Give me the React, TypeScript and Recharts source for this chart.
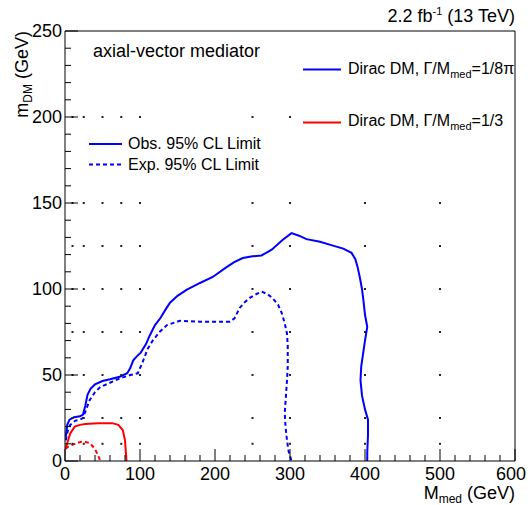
import { ComposedChart, Line, Scatter, XAxis, YAxis, ReferenceLine } from 'recharts';

// observed / expected limits, Dirac DM, width 1/8pi (blue)
const obsMed = [1, 3, 6, 12, 20, 24, 27, 30, 34, 40, 50, 60, 73, 83, 87, 91, 96, 101, 108, 113, 120, 127, 134, 140, 150, 162, 180, 197, 213, 225, 237, 250, 262, 270, 276, 290, 302, 312, 322, 340, 355, 371, 382, 387, 390, 393, 396, 398, 400, 403, 400, 398, 395, 394, 396, 400, 404, 404, 403, 403];
const obsDm = [14, 21, 24, 25.5, 26, 27, 32, 38.5, 42, 44.5, 46.5, 47.5, 49, 51, 54, 58.5, 61, 63, 68, 73, 79, 83, 88, 92, 96, 99.5, 103.5, 107, 112, 115.5, 118, 119, 119.5, 121.5, 123, 128.5, 132.5, 131, 129, 127.5, 125.5, 123.5, 121, 117.5, 113, 107, 100, 93, 85, 78, 70, 64, 55, 47, 38, 30, 24, 15, 5, 0];

const expMed = [1, 4, 7, 14, 20, 24, 27, 30, 33, 40, 47, 60, 73, 87, 97, 104, 110, 117, 126, 136, 153, 180, 200, 220, 226, 233, 240, 247, 255, 262, 270, 276, 284, 289, 293, 296, 297, 297, 296, 293, 294, 296, 298, 302];
const expDm = [12, 18, 21, 23.5, 24, 25, 28.5, 32, 35.5, 40, 43, 45.5, 48, 50, 51, 58, 65, 70, 75, 79, 81.5, 81, 81, 81, 83, 89, 92.5, 95, 97, 98.5, 97, 95, 91, 86, 80, 74, 67, 55, 47, 28, 20, 12, 6, 0];

// Dirac DM, width 1/3 (red)
const wideObsMed = [1, 3, 7, 13, 20, 27, 44, 63, 71, 77, 80, 81, 82];
const wideObsDm = [7, 10.5, 16, 20, 21, 21.5, 22, 22, 21, 18, 12, 6, 0];
const wideExpMed = [1, 3, 9, 16, 22, 27, 33, 39, 44, 47];
const wideExpDm = [7, 8, 9.3, 10.5, 11.2, 11, 10.5, 7.5, 3.5, 0];

// signal scan points
const scanMedLow = [10, 25, 50, 75, 100];
const scanDmLow = [10, 25, 50, 75, 100, 125, 150, 200];
const scanMedHigh = [250, 300, 400, 500];
const scanDmHigh = [10, 25, 50, 75, 100, 125, 150];
const scanExtra = [[250, 200], [300, 200]];

const xTicks = Array.from({ length: 31 }, (_, i) => i * 20);
const yTicks = Array.from({ length: 26 }, (_, i) => i * 10);

const toPts = (xs: number[], ys: number[]) => xs.map((x, i) => ({ x, y: ys[i] }));

const scanPts = [
  ...scanMedLow.flatMap((x) => scanDmLow.map((y) => ({ x, y }))),
  ...scanMedHigh.flatMap((x) => scanDmHigh.map((y) => ({ x, y }))),
  ...scanExtra.map(([x, y]) => ({ x, y })),
];

const FONT = '"Liberation Sans", Arial, Helvetica, sans-serif';
const BLUE = '#0000ff';
const RED = '#ff0000';
const DASH = '4 3';

const YTick = ({ x, y, payload }: any) => {
  const major = payload.value % 50 === 0;
  return (
    <g>
      <line x1={x} x2={x + (major ? 13 : 6)} y1={y} y2={y} stroke="#000" />
      {major && (
        <text x={x - 3} y={y + 6} textAnchor="end" fontSize={18} fontFamily={FONT} fill="#000">
          {payload.value}
        </text>
      )}
    </g>
  );
};

const XTick = ({ x, y, payload }: any) => {
  const major = payload.value % 100 === 0;
  // last label is pulled in so it stays inside the frame
  const last = payload.value === 600;
  return (
    <g>
      <line x1={x} x2={x} y1={y} y2={y - (major ? 12 : 6)} stroke="#000" />
      {major && (
        <text
          x={last ? x + 11 : x}
          y={y + 19}
          textAnchor={last ? 'end' : 'middle'}
          fontSize={18}
          fontFamily={FONT}
          fill="#000"
        >
          {payload.value}
        </text>
      )}
    </g>
  );
};

const Dot = ({ cx, cy }: any) => <rect x={cx - 1} y={cy - 1} width={2} height={2} fill="#222" />;

export default function App() {
  return (
    <div style={{ position: 'absolute', left: 0, top: 0, width: 528, height: 505, background: '#fff', fontFamily: FONT }}>
      <ComposedChart width={528} height={505} margin={{ top: 31, right: 13, bottom: 0, left: 0 }}>
        <XAxis
          type="number"
          dataKey="x"
          domain={[0, 600]}
          ticks={xTicks}
          interval={0}
          allowDataOverflow
          height={44}
          tickLine={false}
          tickSize={0}
          tickMargin={0}
          stroke="#000"
          tick={<XTick />}
        />
        <YAxis
          type="number"
          domain={[0, 250]}
          ticks={yTicks}
          interval={0}
          allowDataOverflow
          width={65}
          tickLine={false}
          tickSize={0}
          tickMargin={0}
          stroke="#000"
          tick={<YTick />}
        />
        <ReferenceLine y={250} stroke="#000" />
        <ReferenceLine x={600} stroke="#000" />
        <Scatter data={scanPts} dataKey="y" shape={<Dot />} isAnimationActive={false} />
        <Line data={toPts(wideExpMed, wideExpDm)} dataKey="y" type="linear" stroke={RED} strokeWidth={2} strokeDasharray={DASH} dot={false} isAnimationActive={false} />
        <Line data={toPts(wideObsMed, wideObsDm)} dataKey="y" type="linear" stroke={RED} strokeWidth={2} dot={false} isAnimationActive={false} />
        <Line data={toPts(expMed, expDm)} dataKey="y" type="linear" stroke={BLUE} strokeWidth={2} strokeDasharray={DASH} dot={false} isAnimationActive={false} />
        <Line data={toPts(obsMed, obsDm)} dataKey="y" type="linear" stroke={BLUE} strokeWidth={2} dot={false} isAnimationActive={false} />
      </ComposedChart>
      <svg width={528} height={505} style={{ position: 'absolute', left: 0, top: 0, pointerEvents: 'none' }} fontFamily={FONT}>
        <text x={515} y={22} textAnchor="end" fontSize={18}>
          2.2 fb<tspan dy={-7} fontSize={11}>-1</tspan>
          <tspan dy={7}> (13 TeV)</tspan>
        </text>
        <text x={93} y={57} fontSize={18}>axial-vector mediator</text>

        <line x1={303} x2={341} y1={69.5} y2={69.5} stroke={BLUE} strokeWidth={2} />
        <text x={348} y={74} fontSize={16}>
          Dirac DM, Γ/M<tspan dy={4} fontSize={11}>med</tspan>
          <tspan dy={-4}>=1/8π</tspan>
        </text>
        <line x1={303} x2={341} y1={122.5} y2={122.5} stroke={RED} strokeWidth={2} />
        <text x={348} y={126} fontSize={16}>
          Dirac DM, Γ/M<tspan dy={4} fontSize={11}>med</tspan>
          <tspan dy={-4}>=1/3</tspan>
        </text>

        <line x1={89} x2={122} y1={144} y2={144} stroke={BLUE} strokeWidth={2} />
        <text x={128} y={149} fontSize={16}>Obs. 95% CL Limit</text>
        <line x1={89} x2={122} y1={164.5} y2={164.5} stroke={BLUE} strokeWidth={2} strokeDasharray={DASH} />
        <text x={128} y={170} fontSize={16}>Exp. 95% CL Limit</text>

        <text x={515} y={499} textAnchor="end" fontSize={18}>
          M<tspan dy={4} fontSize={12}>med</tspan>
          <tspan dy={-4}> (GeV)</tspan>
        </text>
        <text transform="translate(28,31) rotate(-90)" textAnchor="end" fontSize={18}>
          m<tspan dy={4} fontSize={12}>DM</tspan>
          <tspan dy={-4}> (GeV)</tspan>
        </text>
      </svg>
    </div>
  );
}
